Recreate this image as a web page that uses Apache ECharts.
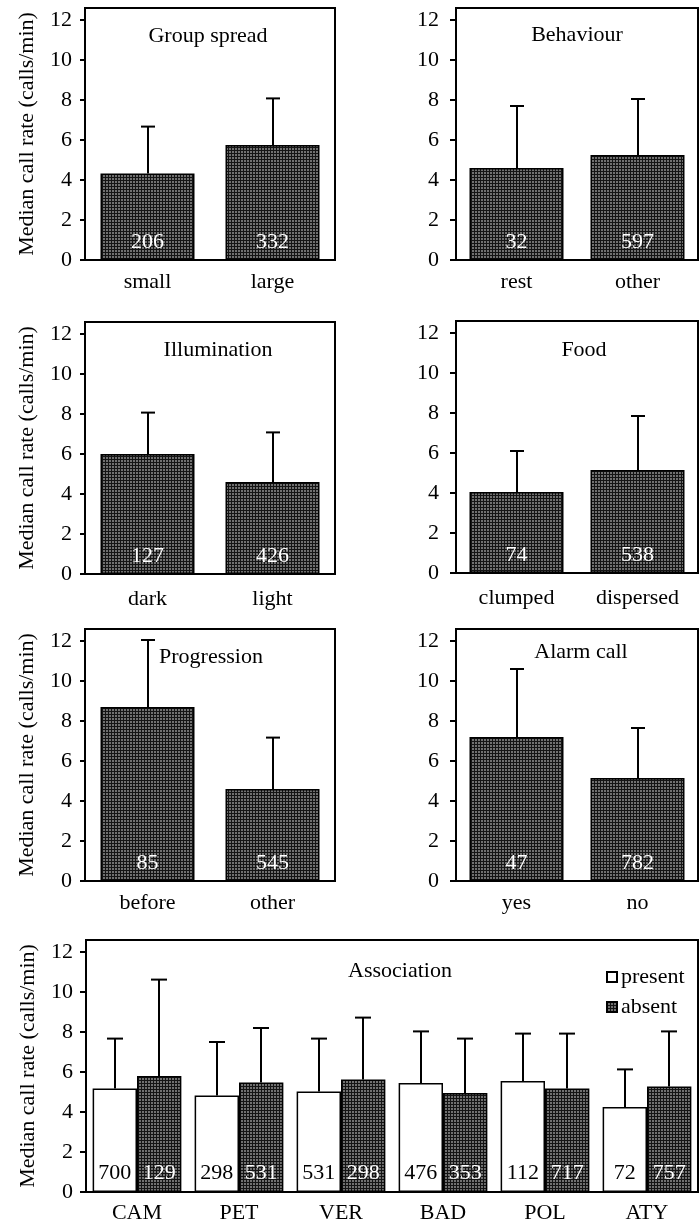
<!DOCTYPE html>
<html>
<head>
<meta charset="utf-8">
<script src="https://cdn.jsdelivr.net/npm/echarts@6/dist/echarts.min.js"></script>
<style>
html,body{margin:0;padding:0;background:#fff;}
#chart{width:699px;height:1225px;}
</style>
</head>
<body>
<div id="chart"></div>
<script>
// ---------- DATA ----------
const yTicks = [0, 2, 4, 6, 8, 10, 12];
const yAxisTitle = 'Median call rate (calls/min)';

const spreadTitle = 'Group spread';
const spreadCats = ['small', 'large'];
const spreadMedian = [4.33, 5.75];
const spreadUpper = [6.67, 8.08];
const spreadN = [206, 332];

const behaviourTitle = 'Behaviour';
const behaviourCats = ['rest', 'other'];
const behaviourMedian = [4.6, 5.25];
const behaviourUpper = [7.7, 8.05];
const behaviourN = [32, 597];

const illumTitle = 'Illumination';
const illumCats = ['dark', 'light'];
const illumMedian = [6.0, 4.6];
const illumUpper = [8.07, 7.08];
const illumN = [127, 426];

const foodTitle = 'Food';
const foodCats = ['clumped', 'dispersed'];
const foodMedian = [4.05, 5.15];
const foodUpper = [6.1, 7.85];
const foodN = [74, 538];

const progTitle = 'Progression';
const progCats = ['before', 'other'];
const progMedian = [8.7, 4.6];
const progUpper = [12.05, 7.17];
const progN = [85, 545];

const alarmTitle = 'Alarm call';
const alarmCats = ['yes', 'no'];
const alarmMedian = [7.2, 5.15];
const alarmUpper = [10.6, 7.65];
const alarmN = [47, 782];

const assocTitle = 'Association';
const assocCats = ['CAM', 'PET', 'VER', 'BAD', 'POL', 'ATY'];
const presentMedian = [5.17, 4.83, 5.03, 5.45, 5.55, 4.25];
const presentUpper = [7.67, 7.5, 7.67, 8.03, 7.92, 6.13];
const presentN = [700, 298, 531, 476, 112, 72];
const absentMedian = [5.8, 5.47, 5.63, 4.95, 5.17, 5.28];
const absentUpper = [10.62, 8.2, 8.72, 7.67, 7.92, 8.03];
const absentN = [129, 531, 298, 353, 717, 757];

// ---------- STYLE ----------
const FONT = '"Liberation Serif", "Times New Roman", serif';
const FS = 22;

function makePattern() {
  const c = document.createElement('canvas');
  c.width = 3; c.height = 3;
  const g = c.getContext('2d');
  g.fillStyle = '#707070'; g.fillRect(0, 0, 3, 3);
  g.fillStyle = '#141414';
  g.fillRect(0, 0, 3, 1);
  g.fillRect(0, 0, 1, 3);
  return c;
}
const hatch = { image: makePattern(), repeat: 'repeat' };

const chart = echarts.init(document.getElementById('chart'), null, { renderer: 'canvas' });

const grids = [], xAxes = [], yAxes = [], series = [], graphics = [];
const H = 252;

function errRenderer(offsetFrac, capHalf) {
  return function (params, api) {
    const x = api.value(0);
    const pBase = api.coord([x, api.value(1)]);
    const pTop = api.coord([x, api.value(2)]);
    const band = api.size([1, 0])[0];
    const cx = Math.round(pBase[0] + offsetFrac * band);
    const st = { stroke: '#000', lineWidth: 2 };
    return {
      type: 'group',
      children: [
        { type: 'line', shape: { x1: cx, y1: pBase[1], x2: cx, y2: pTop[1] }, style: st },
        { type: 'line', shape: { x1: cx - capHalf, y1: pTop[1], x2: cx + capHalf, y2: pTop[1] }, style: st }
      ]
    };
  };
}

function addAxes(gi, g, cats, o) {
  grids.push({ left: g.left, top: g.top, width: g.width, height: H, show: true,
    borderColor: '#000', borderWidth: 2, backgroundColor: 'transparent' });
  xAxes.push({
    gridIndex: gi, type: 'category', data: cats, position: 'bottom',
    axisLine: { lineStyle: { color: '#000', width: 2 } },
    axisTick: { alignWithLabel: o.centerTicks, length: 6, lineStyle: { color: '#000', width: 2 } },
    axisLabel: { color: '#000', fontSize: FS, fontFamily: FONT, margin: o.xMargin }
  });
  const xi = xAxes.length - 1;
  if (o.innerTick) {
    xAxes.push({
      gridIndex: gi, type: 'category', data: cats, position: 'bottom',
      axisLine: { show: false }, axisLabel: { show: false },
      axisTick: { inside: true, length: 5, lineStyle: { color: '#000', width: 2 } }
    });
  }
  yAxes.push({
    gridIndex: gi, type: 'value', min: 0, max: 12.6, interval: 2,
    axisLine: { show: true, lineStyle: { color: '#000', width: 2 } },
    axisTick: { show: true, length: o.tickLen, customValues: yTicks, lineStyle: { color: '#000', width: 2 } },
    axisLabel: { color: '#000', fontSize: FS, fontFamily: FONT, margin: o.yMargin, customValues: yTicks,
      formatter: v => (yTicks.indexOf(v) >= 0 ? String(v) : '') },
    splitLine: { show: false },
    name: o.yName ? yAxisTitle : '',
    nameLocation: 'middle', nameGap: 47, nameRotate: 90,
    nameTextStyle: { color: '#000', fontSize: FS, fontFamily: FONT }
  });
  const yi = yAxes.length - 1;
  return [xi, yi];
}

function addSimplePanel(gi, g, title, tpos, cats, med, upper, n, o) {
  const [xi, yi] = addAxes(gi, g, cats, o);
  series.push({
    type: 'bar', xAxisIndex: xi, yAxisIndex: yi, barWidth: 94,
    data: med,
    itemStyle: { color: hatch, borderColor: '#000', borderWidth: 1.5 },
    label: { show: true, position: 'insideBottom', distance: 7, color: '#fff',
      fontSize: FS, fontFamily: FONT, formatter: p => String(n[p.dataIndex]) },
    silent: true, animation: false
  });
  series.push({
    type: 'custom', xAxisIndex: xi, yAxisIndex: yi,
    renderItem: errRenderer(0, 7),
    data: med.map((m, i) => [i, m, upper[i]]),
    silent: true, animation: false, z: 3
  });
  graphics.push({ type: 'text', x: tpos[0], y: tpos[1],
    style: { text: title, font: FS + 'px ' + FONT, fill: '#000',
      align: 'center', verticalAlign: 'middle', textAlign: 'center', textVerticalAlign: 'middle' } });
}

const leftOpts = { centerTicks: true, innerTick: true, xMargin: 11, yMargin: 13, tickLen: 5, yName: true };
const rightOpts = { centerTicks: true, innerTick: true, xMargin: 11, yMargin: 17, tickLen: 6, yName: false };

addSimplePanel(0, { left: 85, top: 8, width: 250 }, spreadTitle, [208, 36], spreadCats, spreadMedian, spreadUpper, spreadN, leftOpts);
addSimplePanel(1, { left: 456, top: 8, width: 242 }, behaviourTitle, [577, 35], behaviourCats, behaviourMedian, behaviourUpper, behaviourN, rightOpts);
addSimplePanel(2, { left: 85, top: 322, width: 250 }, illumTitle, [218, 350], illumCats, illumMedian, illumUpper, illumN, Object.assign({}, leftOpts, { xMargin: 14 }));
addSimplePanel(3, { left: 456, top: 321, width: 242 }, foodTitle, [584, 350], foodCats, foodMedian, foodUpper, foodN, Object.assign({}, rightOpts, { xMargin: 14 }));
addSimplePanel(4, { left: 85, top: 629, width: 250 }, progTitle, [211, 657], progCats, progMedian, progUpper, progN, leftOpts);
addSimplePanel(5, { left: 456, top: 629, width: 242 }, alarmTitle, [581, 652], alarmCats, alarmMedian, alarmUpper, alarmN, rightOpts);

// Association panel
(function () {
  const o = { centerTicks: false, innerTick: false, xMargin: 10, yMargin: 13, tickLen: 6, yName: true };
  const [xi, yi] = addAxes(6, { left: 86, top: 940, width: 612 }, assocCats, o);
  const gap = '13%';
  series.push({
    name: 'present', type: 'bar', xAxisIndex: xi, yAxisIndex: yi, barGap: 0, barCategoryGap: gap,
    data: presentMedian, color: '#fff',
    itemStyle: { color: '#fff', borderColor: '#000', borderWidth: 1.5 },
    label: { show: true, position: 'insideBottom', distance: 8, color: '#000',
      fontSize: FS, fontFamily: FONT, formatter: p => String(presentN[p.dataIndex]) },
    silent: true, animation: false
  });
  series.push({
    name: 'absent', type: 'bar', xAxisIndex: xi, yAxisIndex: yi, barGap: 0, barCategoryGap: gap,
    data: absentMedian, color: hatch,
    itemStyle: { color: hatch, borderColor: '#000', borderWidth: 1.5 },
    label: { show: true, position: 'insideBottom', distance: 8, color: '#fff',
      fontSize: FS, fontFamily: FONT, formatter: p => String(absentN[p.dataIndex]) },
    silent: true, animation: false
  });
  series.push({
    type: 'custom', xAxisIndex: xi, yAxisIndex: yi, renderItem: errRenderer(-0.2175, 8),
    data: presentMedian.map((m, i) => [i, m, presentUpper[i]]), silent: true, animation: false, z: 3
  });
  series.push({
    type: 'custom', xAxisIndex: xi, yAxisIndex: yi, renderItem: errRenderer(0.2175, 8),
    data: absentMedian.map((m, i) => [i, m, absentUpper[i]]), silent: true, animation: false, z: 3
  });
  graphics.push({ type: 'text', x: 400, y: 971,
    style: { text: assocTitle, font: FS + 'px ' + FONT, fill: '#000',
      align: 'center', verticalAlign: 'middle', textAlign: 'center', textVerticalAlign: 'middle' } });
})();

chart.setOption({
  animation: false,
  backgroundColor: '#fff',
  grid: grids,
  xAxis: xAxes,
  yAxis: yAxes,
  series: series,
  graphic: graphics,
  legend: {
    data: ['present', 'absent'], orient: 'vertical', left: 606, top: 966, padding: 0,
    itemWidth: 10, itemHeight: 10, itemGap: 8, icon: 'rect',
    textStyle: { color: '#000', fontSize: FS, fontFamily: FONT, padding: [0, 0, 0, -1] },
    selectedMode: false
  }
});
</script>
</body>
</html>
